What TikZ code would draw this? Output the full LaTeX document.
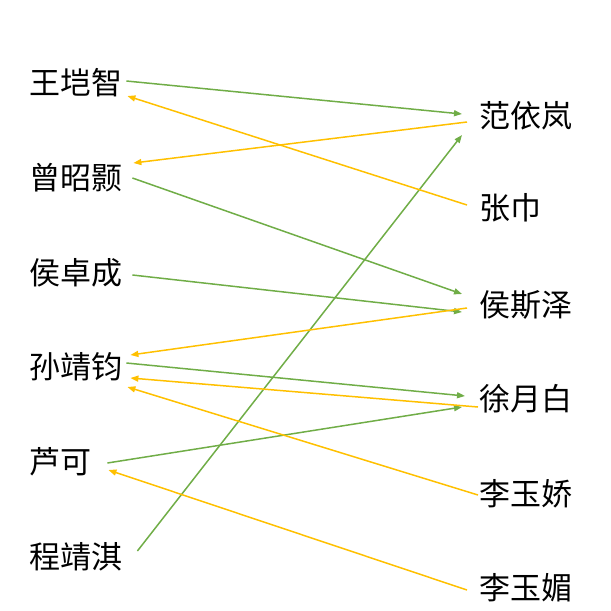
\documentclass[tikz,border=0pt]{standalone}
\usepackage{fontspec}
\usepackage{xcolor}
\usetikzlibrary{arrows.meta}
\newfontfamily\cjk{Noto Sans CJK SC}
\definecolor{gline}{HTML}{70AD47}
\definecolor{oline}{HTML}{FFC000}

\begin{document}
\begin{tikzpicture}[x=1pt,y=-1pt,
        person/.style={anchor=west,inner sep=0pt,font=\cjk\fontsize{31}{31}\selectfont},
        garr/.style={gline,line width=1.5pt,-{Triangle[length=8pt,width=6pt]}},
        oarr/.style={oline,line width=1.5pt,-{Triangle[length=8pt,width=6pt]}}]
            \useasboundingbox (0,0) rectangle (611,611);
            \node (wkz) at (29,83) [person] {王垲智};
            \node (zzh) at (29,178) [person] {曾昭颢};
            \node (hzc) at (29,273) [person] {侯卓成};
            \node (sjj) at (29,367) [person] {孙靖钧};
            \node (lk) at (29,462) [person] {芦可};
            \node (cjq) at (29,557) [person] {程靖淇};
            \node (fyl) at (479,116) [person] {范依岚};
            \node (zj) at (479,208) [person] {张巾};
            \node (hsz) at (479,305) [person] {侯斯泽};
            \node (xyb) at (479,399) [person] {徐月白};
            \node (lyj) at (479,494) [person] {李玉娇};
            \node (lym) at (479,588) [person] {李玉媚};
            \draw[garr] ([shift={(4,-2)}]wkz.east) -- ([shift={(-17,-2)}]fyl.west);
            \draw[garr] ([shift={(10,0)}]zzh.east) -- ([shift={(-17,-11)}]hsz.west);
            \draw[garr] ([shift={(10,2)}]hzc.east) -- ([shift={(-17,7)}]hsz.west);
            \draw[garr] ([shift={(4,-4)}]sjj.east) -- ([shift={(-14,-3)}]xyb.west);
            \draw[garr] ([shift={(16,1)}]lk.east) -- ([shift={(-17,8)}]xyb.west);
            \draw[garr] ([shift={(15,-6)}]cjq.east) -- ([shift={(-17,19)}]fyl.west);
            \draw[oarr] ([shift={(-12,6)}]fyl.west) -- ([shift={(11,-15)}]zzh.east);
            \draw[oarr] ([shift={(-12,-3)}]zj.west) -- ([shift={(5,13)}]wkz.east);
            \draw[oarr] ([shift={(-12,3)}]hsz.west) -- ([shift={(8,-12)}]sjj.east);
            \draw[oarr] ([shift={(-1,8)}]xyb.west) -- ([shift={(8,11)}]sjj.east);
            \draw[oarr] ([shift={(-1,1)}]lyj.west) -- ([shift={(5,20)}]sjj.east);
            \draw[oarr] ([shift={(-12,2)}]lym.west) -- ([shift={(17,8)}]lk.east);
        \end{tikzpicture}
\end{document}
